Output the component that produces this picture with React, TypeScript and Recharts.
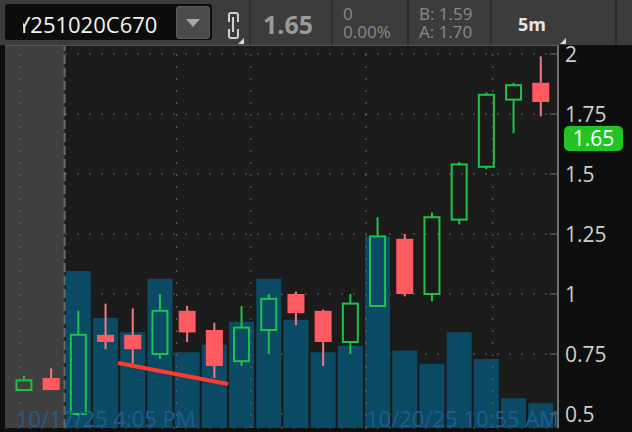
import { ComposedChart, Bar, XAxis, YAxis, CartesianGrid, ReferenceLine, ReferenceArea } from 'recharts';

// 5m candles, index 0 = 10/17/25 4:05 PM
const opens = [0.6, 0.65, 0.5, 0.83, 0.83, 0.75, 0.93, 0.85, 0.72, 0.85, 1.0, 0.93, 0.8, 0.95, 1.23, 1.0, 1.31, 1.53, 1.81, 1.88];
const closes = [0.64, 0.6, 0.83, 0.8, 0.77, 0.93, 0.84, 0.7, 0.86, 0.98, 0.92, 0.8, 0.96, 1.24, 1.0, 1.32, 1.54, 1.83, 1.87, 1.8];
const highs = [0.66, 0.69, 0.93, 0.96, 0.94, 1.0, 0.95, 0.88, 0.95, 1.0, 1.01, 0.935, 1.0, 1.32, 1.25, 1.34, 1.55, 1.84, 1.88, 1.99];
const lows = [0.6, 0.6, 0.49, 0.77, 0.71, 0.73, 0.8, 0.65, 0.7, 0.75, 0.87, 0.7, 0.75, 0.95, 0.99, 0.97, 1.29, 1.52, 1.67, 1.74];
const volumes = [0, 0, 164, 115, 100, 156, 79, 87, 111, 156, 113, 79, 86, 200, 81, 67, 100, 72, 31, 26];

const priceTicks = [0.5, 0.75, 1, 1.25, 1.5, 1.75, 2];
const timeGridX = [-0.15, 5.61, 8.34, 12.57, 17.23];
const sessionEnd = 1.49;
const trendLine = [{ x: 3.46, y: 0.7125 }, { x: 7.5, y: 0.625 }];
const lastPrice = 1.65;
const symbol = 'Y251020C670';
const timeLabels = ['10/17/25 4:05 PM', '10/20/25 10:55 AM'];

const data = opens.map((o, i) => ({
    idx: i,
    open: o,
    close: closes[i],
    high: highs[i],
    low: lows[i],
    vol: volumes[i],
}));

const GREEN = '#1dc24a';
const RED = '#ff5a60';
const RED_WICK = '#f07a82';

const Candle = (props: any) => {
    const { x, y, width, height, payload } = props;
    if (!payload) return null;
    const { open, close, high, low } = payload;
    const top = Math.min(y, y + height);
    const h = Math.abs(height);
    const ppu = h / (high - low || 1);
    const cx = x + width / 2;
    const bodyTop = top + (high - Math.max(open, close)) * ppu;
    const bodyBot = Math.max(top + (high - Math.min(open, close)) * ppu, bodyTop + 2);
    if (close >= open) {
        return (
            <g>
                <line x1={cx} x2={cx} y1={top} y2={bodyTop} stroke={GREEN} strokeWidth={2} />
                <line x1={cx} x2={cx} y1={bodyBot} y2={top + h} stroke={GREEN} strokeWidth={2} />
                <rect x={x + 1} y={bodyTop} width={width - 2} height={bodyBot - bodyTop} fill="none" stroke={GREEN} strokeWidth={2} />
            </g>
        );
    }
    return (
        <g>
            <line x1={cx} x2={cx} y1={top} y2={top + h} stroke={RED_WICK} strokeWidth={2} />
            <rect x={x} y={bodyTop} width={width} height={bodyBot - bodyTop} fill={RED} />
        </g>
    );
};

const PriceTick = (props: any) => {
    const { x, y, payload } = props;
    return (
        <g>
            <line x1={x - 15} x2={x - 7} y1={y} y2={y} stroke="#707070" strokeWidth={1} />
            <text x={x} y={y} dy="0.36em" textAnchor="start" fill="#cdcdcd" fontSize={21} fontFamily='"Open Sans", sans-serif'>
                {payload.value}
            </text>
        </g>
    );
};

const PriceBadge = (props: any) => {
    const vb = props.viewBox || {};
    const bx = vb.x + vb.width + 6;
    const by = vb.y;
    return (
        <g>
            <rect x={bx} y={by - 12} width={59} height={25} rx={5} fill="#22c322" />
            <text x={bx + 29.5} y={by} dy="0.36em" textAnchor="middle" fill="#ffffff" fontSize={21} fontFamily='"Open Sans", sans-serif'>
                {lastPrice.toFixed(2)}
            </text>
        </g>
    );
};

const divider = (left: number) => (
    <div style={{ position: 'absolute', left, top: 0, width: 2, height: 45, background: '#2f2f2f' }} />
);

const txt = { position: 'absolute' as const, lineHeight: 1, whiteSpace: 'nowrap' as const };

export default function App() {
    return (
        <div style={{ position: 'absolute', left: 0, top: 0, width: 632, height: 432, background: '#0e0e0e', overflow: 'hidden', fontFamily: '"Open Sans", sans-serif' }}>
            {/* toolbar */}
            <div style={{ position: 'absolute', left: 0, top: 0, width: 632, height: 45, background: '#3c3c3c' }}>
                <div style={{ position: 'absolute', left: 5, top: 4, width: 207, height: 36, background: '#0c0c0c', borderRadius: 3 }} />
                <div style={{ position: 'absolute', left: 23, top: 4, width: 150, height: 36, overflow: 'hidden' }}>
                    <div style={{ ...txt, left: -5, top: 9, fontSize: 22, color: '#f2f2f2' }}>{symbol}</div>
                </div>
                <div style={{ position: 'absolute', left: 176, top: 6, width: 32, height: 31, background: '#4b4b4b', border: '1px solid #5c5c5c', borderRadius: 3 }}>
                    <div style={{ position: 'absolute', left: 9, top: 12, width: 0, height: 0, borderLeft: '7px solid transparent', borderRight: '7px solid transparent', borderTop: '8px solid #a8a8a8' }} />
                </div>
                <div style={{ position: 'absolute', left: 228, top: 12, width: 7, height: 8, border: '2px solid #d0d0d0', borderBottom: 'none', borderRadius: '3px 3px 0 0' }} />
                <div style={{ position: 'absolute', left: 228, top: 29, width: 7, height: 8, border: '2px solid #d0d0d0', borderTop: 'none', borderRadius: '0 0 3px 3px' }} />
                <div style={{ position: 'absolute', left: 232, top: 17, width: 2, height: 15, background: '#d0d0d0' }} />
                <div style={{ position: 'absolute', left: 238, top: 38, width: 0, height: 0, borderLeft: '6px solid transparent', borderBottom: '6px solid #d8d8d8' }} />
                {divider(249)}
                <div style={{ ...txt, left: 263, top: 12, fontSize: 25, fontWeight: 700, color: '#9a9a9a' }}>1.65</div>
                {divider(331)}
                <div style={{ ...txt, left: 343, top: 5, fontSize: 17, color: '#8a8a8a' }}>0</div>
                <div style={{ ...txt, left: 343, top: 23, fontSize: 17, color: '#8a8a8a' }}>0.00%</div>
                {divider(407)}
                <div style={{ ...txt, left: 419, top: 5, fontSize: 17, color: '#8a8a8a' }}>B: 1.59</div>
                <div style={{ ...txt, left: 419, top: 23, fontSize: 17, color: '#8a8a8a' }}>A: 1.70</div>
                {divider(490)}
                <div style={{ ...txt, left: 518, top: 15, fontSize: 18, fontWeight: 700, color: '#e4e4e4' }}>5m</div>
                <div style={{ position: 'absolute', left: 560, top: 38, width: 0, height: 0, borderLeft: '6px solid transparent', borderBottom: '6px solid #d8d8d8' }} />
                {divider(615)}
            </div>

            {/* chart */}
            <div style={{ position: 'absolute', left: 0, top: 45, width: 632, height: 387 }}>
                <ComposedChart width={632} height={387} data={data} margin={{ top: 0, right: 0, bottom: 4, left: 5 }}>
                    <XAxis xAxisId="cx" dataKey="idx" type="number" domain={[-0.7, 19.63]} allowDataOverflow
                        height={0} tick={false} tickLine={false} axisLine={{ stroke: '#585858', strokeWidth: 2 }} />
                    <XAxis xAxisId="vx" dataKey="idx" type="number" domain={[-0.7, 19.63]} allowDataOverflow hide />
                    <YAxis yAxisId="price" orientation="right" width={74} domain={[0.4417, 2.0375]} allowDataOverflow
                        ticks={priceTicks} interval={0} tickSize={0} tickMargin={7} tickLine={false}
                        axisLine={{ stroke: '#707070', strokeWidth: 2 }} tick={<PriceTick />} />
                    <YAxis yAxisId="vol" domain={[0, 400]} hide />

                    <CartesianGrid xAxisId="cx" yAxisId="price" horizontal={false} vertical={false} fill="#1b1b1b" />
                    <ReferenceArea xAxisId="cx" yAxisId="price" x1={-0.7} x2={sessionEnd} fill="#3f3f3f" fillOpacity={1} stroke="none" />
                    <CartesianGrid xAxisId="cx" yAxisId="price" vertical={false} stroke="#666666" strokeDasharray="2 10" />
                    {timeGridX.map((gx) => (
                        <ReferenceLine key={gx} xAxisId="cx" yAxisId="price" x={gx} stroke="#666666" strokeDasharray="2 10" />
                    ))}
                    <ReferenceLine xAxisId="cx" yAxisId="price" x={sessionEnd} stroke="#6a6a6a" strokeWidth={2} strokeDasharray="9 4" />

                    <Bar xAxisId="vx" yAxisId="vol" dataKey="vol" fill="#0b4a64" barSize={25} isAnimationActive={false} />
                    <Bar xAxisId="cx" yAxisId="price" dataKey={(d: any) => [d.low, d.high]} barSize={17} shape={<Candle />} isAnimationActive={false} />

                    <ReferenceLine xAxisId="cx" yAxisId="price" segment={trendLine} stroke="#ff3b2e" strokeWidth={4} />
                    <ReferenceLine xAxisId="cx" yAxisId="price" y={lastPrice} stroke="none" label={<PriceBadge />} />
                </ComposedChart>

                {/* plot top border */}
                <div style={{ position: 'absolute', left: 5, top: 0, width: 553, height: 1, background: '#555555' }} />

                {/* time labels */}
                <div style={{ position: 'absolute', left: 5, top: 0, width: 553, height: 383, overflow: 'hidden', pointerEvents: 'none' }}>
                    <div style={{ ...txt, left: 11, top: 362, fontSize: 22, color: '#1f5c8e' }}>{timeLabels[0]}</div>
                    <div style={{ ...txt, left: 361, top: 362, fontSize: 22, color: '#1f5c8e' }}>{timeLabels[1]}</div>
                </div>
            </div>
        </div>
    );
}
